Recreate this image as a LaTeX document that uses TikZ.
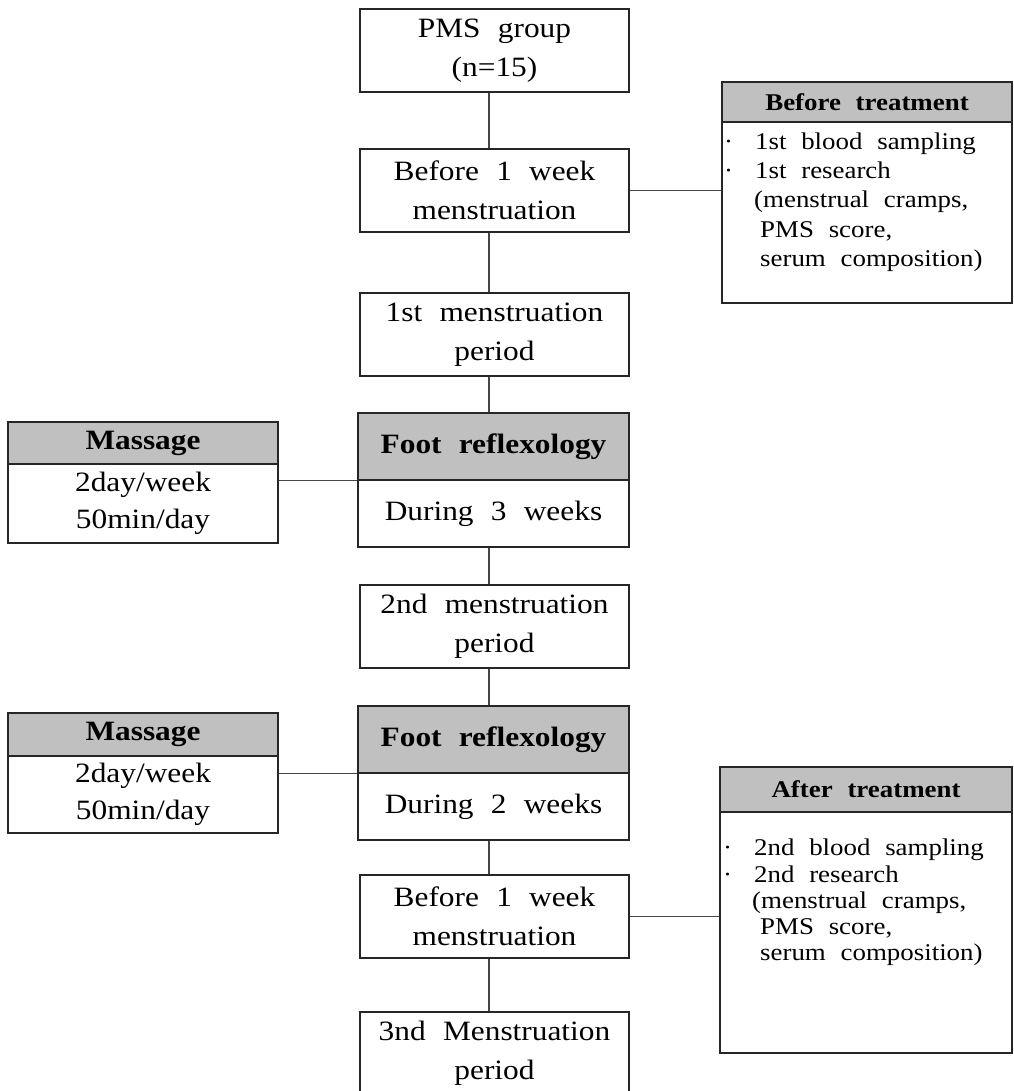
\documentclass[tikz,border=0pt]{standalone}
\usepackage{fontspec}
\setmainfont{Liberation Serif}[FakeStretch=1.12, WordSpace=2.2]
\usetikzlibrary{calc}
\definecolor{hdrgray}{RGB}{192,192,192}
\definecolor{linegray}{RGB}{70,70,70}
\newcommand\bigtxt{\fontsize{28}{39}\selectfont}
\newcommand\smalltxt{\fontsize{24}{29}\selectfont}
\newcommand\masstxt{\fontsize{28}{37}\selectfont}
\tikzset{
  box/.style={draw=black!85, line width=1.3pt, fill=white, minimum width=269pt,
    minimum height=83pt, inner sep=0pt, align=center, font=\bigtxt},
  hbox/.style={box, fill=hdrgray},
  conn/.style={draw=linegray, line width=1.2pt},
  txt/.style={inner sep=0pt, anchor=base west, font=\smalltxt}
}
\begin{document}
\begin{tikzpicture}[x=1pt,y=-1pt]
\clip (0,0) rectangle (1013,1091);
\fill[white] (0,0) rectangle (1013,1091);
\coordinate (spine) at (489,0);

% centre column
\node[box] (pms) at (494.5,50.5) {PMS group\\(n=15)};
\node[box] (bef1) at (494.5,190.5) {Before 1 week\\menstruation};
\node[box] (men1) at (494.5,334.5) {1st menstruation\\period};
\node[hbox, minimum width=271pt, minimum height=67pt] (foot1h) at (493.5,446.5) {\textbf{Foot reflexology}};
\node[box, minimum width=271pt, minimum height=67pt] (foot1b) at (493.5,513.5) {During 3 weeks};
\node[box] (men2) at (494.5,626.5) {2nd menstruation\\period};
\node[hbox, minimum width=271pt, minimum height=67pt] (foot2h) at (493.5,739.5) {\textbf{Foot reflexology}};
\node[box, minimum width=271pt, minimum height=67pt] (foot2b) at (493.5,806.5) {During 2 weeks};
\node[box] (bef2) at (494.5,916.5) {Before 1 week\\menstruation};
\node[box] (men3) at (494.5,1053.5) {3nd Menstruation\\period};

% massage boxes
\node[hbox, minimum width=270pt, minimum height=42pt] (mas1h) at (143,443) {\textbf{Massage}};
\node[box, minimum width=270pt, minimum height=79pt, font=\masstxt] (mas1b) at (143,503.5) {2day/week\\50min/day};
\node[hbox, minimum width=270pt, minimum height=43pt] (mas2h) at (143,734.5) {\textbf{Massage}};
\node[box, minimum width=270pt, minimum height=77pt, font=\masstxt] (mas2b) at (143,794.5) {2day/week\\50min/day};

% before treatment
\node[hbox, minimum width=290pt, minimum height=40pt, font=\smalltxt] (bth) at (867,102) {\textbf{Before treatment}};
\node[box, minimum width=290pt, minimum height=181pt] (btb) at (867,212.5) {};
\node[txt] (bt1) at (724,150) {·\hspace{22pt}1st blood sampling};
\node[txt] (bt2) at (724,179) {·\hspace{22pt}1st research};
\node[txt] (bt3) at (754,208) {(menstrual cramps,};
\node[txt] (bt4) at (760,237) {PMS score,};
\node[txt] (bt5) at (760,266) {serum composition)};

% after treatment
\node[hbox, minimum width=292pt, minimum height=45pt, font=\smalltxt] (ath) at (866,789.5) {\textbf{After treatment}};
\node[box, minimum width=292pt, minimum height=241pt] (atb) at (866,932.5) {};
\node[txt] (at1) at (723,855) {·\hspace{22pt}2nd blood sampling};
\node[txt] (at2) at (723,882) {·\hspace{22pt}2nd research};
\node[txt] (at3) at (752,908) {(menstrual cramps,};
\node[txt] (at4) at (760,934) {PMS score,};
\node[txt] (at5) at (760,960) {serum composition)};

% connectors
\draw[conn] (pms.south -| spine) -- (bef1.north -| spine);
\draw[conn] (bef1.south -| spine) -- (men1.north -| spine);
\draw[conn] (men1.south -| spine) -- (foot1h.north -| spine);
\draw[conn] (foot1b.south -| spine) -- (men2.north -| spine);
\draw[conn] (men2.south -| spine) -- (foot2h.north -| spine);
\draw[conn] (foot2b.south -| spine) -- (bef2.north -| spine);
\draw[conn] (bef2.south -| spine) -- (men3.north -| spine);
\draw[conn] (bef1.east) -- (bef1.east -| btb.west);
\draw[conn] (foot1h.south west) -- (foot1h.south west -| mas1b.east);
\draw[conn] (foot2h.south west) -- (foot2h.south west -| mas2b.east);
\draw[conn] (bef2.east) -- (bef2.east -| atb.west);
\end{tikzpicture}
\end{document}
